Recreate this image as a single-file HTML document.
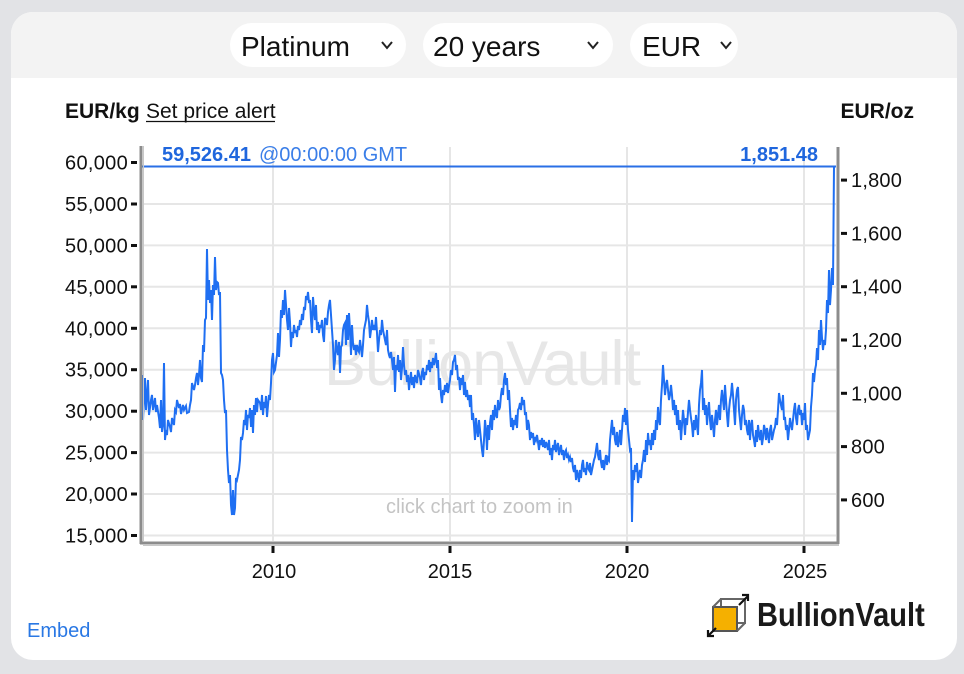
<!DOCTYPE html>
<html>
<head>
<meta charset="utf-8">
<style>
  html,body{margin:0;padding:0;}
  body{width:964px;height:674px;background:#e2e3e6;position:relative;overflow:hidden;font-family:"Liberation Sans",Arial,sans-serif;}
  .card{position:absolute;left:11px;top:12px;width:946px;height:648px;background:#fff;border-radius:22px;overflow:hidden;}
  .hdr{position:absolute;left:0;top:0;width:946px;height:66px;background:#f3f3f3;}
  .pill{position:absolute;top:11px;height:44px;background:#fff;border-radius:22px;}
  svg{position:absolute;left:0;top:0;}
</style>
</head>
<body>
<div class="card">
  <div class="hdr">
    <div class="pill" style="left:219px;width:176px;"></div>
    <div class="pill" style="left:412px;width:190px;"></div>
    <div class="pill" style="left:619px;width:108px;"></div>
  </div>
</div>
<svg width="964" height="674" viewBox="0 0 964 674" xmlns="http://www.w3.org/2000/svg" font-family="Liberation Sans, Arial, sans-serif">
  <!-- header text -->
  <g fill="#111" font-size="28">
    <text x="241" y="56">Platinum</text>
    <text x="433" y="56">20 years</text>
    <text x="642" y="56">EUR</text>
  </g>
  <g fill="none" stroke="#222" stroke-width="2">
    <polyline points="382,42 387,48 392,42"/>
    <polyline points="588,42 593,48 598,42"/>
    <polyline points="721,42 726,48 731,42"/>
  </g>
  <!-- unit labels -->
  <text x="65" y="118" font-size="21" font-weight="bold" fill="#111">EUR/kg</text>
  <text x="146" y="118" font-size="21" fill="#111">Set price alert</text>
  <line x1="146" y1="121.5" x2="275" y2="121.5" stroke="#111" stroke-width="1.3"/>
  <text x="914" y="118" font-size="21" font-weight="bold" fill="#111" text-anchor="end">EUR/oz</text>

  <!-- watermark -->
  <text x="324" y="385" font-size="63" fill="#e7e7e7" letter-spacing="-1">BullionVault</text>

  <!-- gridlines -->
  <g stroke="#e6e6e6" stroke-width="2">
    <line x1="143" y1="204" x2="836" y2="204"/>
    <line x1="143" y1="245.4" x2="836" y2="245.4"/>
    <line x1="143" y1="286.8" x2="836" y2="286.8"/>
    <line x1="143" y1="328.3" x2="836" y2="328.3"/>
    <line x1="143" y1="369.7" x2="836" y2="369.7"/>
    <line x1="143" y1="411.2" x2="836" y2="411.2"/>
    <line x1="143" y1="452.6" x2="836" y2="452.6"/>
    <line x1="143" y1="494" x2="836" y2="494"/>
    <line x1="143" y1="535.5" x2="836" y2="535.5"/>
    <line x1="273" y1="147" x2="273" y2="541"/>
    <line x1="450" y1="147" x2="450" y2="541"/>
    <line x1="627" y1="147" x2="627" y2="541"/>
    <line x1="804" y1="147" x2="804" y2="541"/>
  </g>

  <!-- click text -->
  <text x="386" y="513" font-size="20" fill="#c4c4c4">click chart to zoom in</text>

  <!-- current price line -->
  <line x1="142" y1="166.5" x2="836" y2="166.5" stroke="#2a6fe6" stroke-width="2"/>
  <text x="162" y="161" font-size="20" font-weight="bold" fill="#1f66dd">59,526.41</text>
  <text x="259" y="161" font-size="20" fill="#3a7ee8">@00:00:00 GMT</text>
  <text x="818" y="161" font-size="20" font-weight="bold" fill="#1f66dd" text-anchor="end">1,851.48</text>

  <!-- series -->
  <polyline fill="none" stroke="#1f6ff2" stroke-width="2" stroke-linejoin="miter" points="
143,375 143,420 145,378 146,410 148,380 149,415 151,400 152,395 153,410 155,398 156,412 157,405 159,418 160,428 161,400 162,432 163,425 164,363 165,440 166,430 167,435 168,420 170,427 171,432 172,418 174,425 175,410 176,412 177,400 179,408 180,404 181,414 183,405 184,410 186,406 187,413 189,412 190,405 191,400 192,383 194,390 195,385 196,378 197,373 198,385 199,375 200,360 201,378 202,382 203,345 204,352 205,320 206,318 207,249 208,300 209,280 210,303 211,290 212,320 213,285 214,295 215,257 216,290 217,282 218,283 219,295 220,292 221,373 222,375 223,380 224,400 225,413 226,410 227,450 228,470 229,483 230,475 231,505 232,515 233,490 234,515 235,508 236,478 237,480 238,475 239,470 240,460 241,437 242,440 243,433 244,420 245,425 246,410 247,430 248,415 249,418 250,408 251,427 252,410 253,433 254,405 255,415 256,398 257,412 258,400 260,403 261,410 262,395 263,415 264,402 265,408 266,396 267,417 268,405 269,395 270,400 271,383 272,360 273,353 274,372 275,370 277,355 278,333 279,357 280,340 281,310 282,318 283,300 284,315 285,290 286,305 287,320 288,330 289,308 290,322 291,347 292,332 293,338 294,325 295,333 296,330 297,337 298,326 299,330 300,320 301,325 302,314 303,320 304,307 305,310 306,296 307,300 308,292 309,303 310,300 311,320 312,333 313,297 314,310 315,320 316,305 317,330 318,322 319,333 320,325 321,328 322,320 323,335 324,342 325,318 326,320 327,325 328,312 329,305 330,300 331,315 332,330 333,345 334,370 335,360 336,340 337,350 338,355 339,342 340,373 341,347 342,345 343,330 344,325 345,323 346,345 347,315 348,340 349,313 350,330 351,355 352,325 353,343 354,350 355,345 356,355 357,345 358,350 359,352 360,340 361,348 362,357 363,345 364,330 365,325 366,320 367,305 368,315 369,322 370,338 371,330 372,320 373,330 374,325 375,330 376,317 377,333 378,352 379,340 380,330 381,335 382,320 383,330 384,335 385,340 386,345 387,330 388,350 389,355 390,358 391,352 392,360 393,370 394,357 395,392 396,365 397,370 398,355 399,372 400,360 401,380 402,368 403,347 404,365 405,375 406,370 407,382 408,375 409,390 410,380 411,372 412,385 413,377 414,388 415,375 416,380 417,383 418,370 420,378 421,385 422,372 423,368 424,380 425,372 426,375 427,365 428,370 429,360 430,372 431,362 432,368 433,358 434,365 435,360 436,353 437,368 438,360 439,390 440,378 441,395 442,403 443,390 444,395 445,385 446,392 447,383 448,393 449,386 450,380 451,370 452,375 453,362 454,360 455,355 456,370 457,365 458,380 459,377 460,390 461,378 462,385 463,375 464,395 465,382 466,397 467,390 468,400 469,395 470,407 471,395 472,420 473,413 474,425 475,440 476,418 477,430 478,437 479,420 480,430 481,440 482,450 483,457 484,440 485,420 486,430 487,450 488,425 489,440 490,423 491,415 492,430 493,410 494,420 495,405 496,415 497,418 498,400 499,410 500,407 501,395 502,388 503,395 504,380 505,373 506,385 507,378 508,400 509,390 510,410 511,427 512,418 513,430 514,420 515,425 516,415 517,428 518,410 519,408 520,403 521,410 522,397 523,405 524,400 525,415 526,412 527,430 528,420 529,425 530,440 531,432 532,438 533,433 534,445 535,437 536,440 537,435 538,442 539,450 540,440 541,445 542,438 543,447 544,440 545,448 546,442 547,445 548,450 549,440 550,455 551,448 552,460 553,445 554,450 555,440 556,452 557,447 558,443 559,455 560,450 561,445 562,455 563,450 564,460 565,452 566,450 567,458 568,455 569,460 570,457 571,462 572,458 573,468 574,472 575,465 576,480 577,470 578,475 579,482 580,470 581,478 582,465 583,460 584,472 585,468 586,475 587,462 588,468 589,470 590,463 591,475 592,470 593,465 594,460 595,457 596,450 597,443 598,455 599,460 600,450 601,462 602,468 603,460 604,470 605,462 606,455 607,465 608,458 609,460 610,440 611,430 612,420 613,435 614,427 615,440 616,445 617,432 618,447 619,440 620,430 621,445 622,430 623,415 624,422 625,408 626,425 627,410 628,430 629,440 630,450 631,448 632,522 633,470 634,480 635,465 636,472 637,463 638,483 639,475 640,470 641,478 642,465 643,460 644,450 645,462 646,440 647,455 648,433 649,445 650,440 651,450 652,433 653,445 654,430 655,440 656,420 657,430 658,407 659,420 660,425 661,400 662,385 663,365 664,380 665,395 666,385 667,380 668,390 669,400 670,395 671,385 672,395 673,410 674,400 675,415 676,405 677,425 678,410 679,430 680,420 681,440 682,425 683,410 684,420 685,435 686,418 687,425 688,412 689,400 690,410 691,418 692,425 693,437 694,420 695,430 696,415 697,425 698,435 699,405 700,390 701,383 702,370 703,410 704,398 705,415 706,405 707,425 708,410 709,402 710,420 711,430 712,415 713,425 714,437 715,420 716,410 717,425 718,415 719,405 720,420 721,400 722,390 723,400 724,410 725,385 726,400 727,415 728,427 729,410 730,400 731,395 732,383 733,395 734,410 735,425 736,400 737,390 738,387 739,410 740,420 741,430 742,415 743,405 744,410 745,425 746,420 747,430 748,435 749,420 750,440 751,425 752,420 753,435 754,440 755,447 756,430 757,442 758,425 759,435 760,440 761,430 762,445 763,438 764,425 765,430 766,440 767,428 768,435 769,443 770,430 771,425 772,440 773,435 774,430 775,427 776,418 777,425 778,410 779,393 780,400 781,405 782,410 783,395 784,420 785,417 786,430 787,425 788,440 789,430 790,418 791,425 792,430 793,420 794,410 795,403 796,418 797,425 798,410 799,405 800,415 801,410 802,425 803,413 804,420 805,403 806,430 807,425 808,440 809,435 810,430 811,407 812,395 813,373 814,382 815,370 816,365 817,348 818,360 819,330 820,345 821,320 822,338 823,350 824,340 825,345 826,330 827,300 828,313 829,270 830,305 831,290 832,268 833,285 834,166"/>

  <!-- axes -->
  <g stroke="#8c8c8c" stroke-width="3">
    <line x1="141" y1="146" x2="141" y2="544"/>
    <line x1="140" y1="543" x2="839" y2="543"/>
    <line x1="838" y1="147" x2="838" y2="544"/>
  </g>
  <g stroke="#c8c8c8" stroke-width="1">
    <line x1="143.5" y1="146" x2="143.5" y2="541"/>
    <line x1="143" y1="545.5" x2="839" y2="545.5"/>
  </g>

  <!-- left ticks -->
  <g fill="#111">
    <rect x="131" y="161" width="6" height="3"/>
    <rect x="131" y="202.5" width="6" height="3"/>
    <rect x="131" y="244" width="6" height="3"/>
    <rect x="131" y="285.3" width="6" height="3"/>
    <rect x="131" y="326.8" width="6" height="3"/>
    <rect x="131" y="368.2" width="6" height="3"/>
    <rect x="131" y="409.7" width="6" height="3"/>
    <rect x="131" y="451.1" width="6" height="3"/>
    <rect x="131" y="492.5" width="6" height="3"/>
    <rect x="131" y="534" width="6" height="3"/>
    <!-- right ticks -->
    <rect x="841" y="178.6" width="6" height="3"/>
    <rect x="841" y="231.9" width="6" height="3"/>
    <rect x="841" y="285.2" width="6" height="3"/>
    <rect x="841" y="338.5" width="6" height="3"/>
    <rect x="841" y="391.8" width="6" height="3"/>
    <rect x="841" y="445.1" width="6" height="3"/>
    <rect x="841" y="498.4" width="6" height="3"/>
    <!-- bottom ticks -->
    <rect x="271.5" y="546" width="3" height="7"/>
    <rect x="448.5" y="546" width="3" height="7"/>
    <rect x="625.5" y="546" width="3" height="7"/>
    <rect x="802.5" y="546" width="3" height="7"/>
  </g>

  <!-- left labels -->
  <g font-size="20" fill="#111" text-anchor="end" letter-spacing="0.3">
    <text x="128" y="169.5">60,000</text>
    <text x="128" y="211">55,000</text>
    <text x="128" y="252.4">50,000</text>
    <text x="128" y="293.8">45,000</text>
    <text x="128" y="335.3">40,000</text>
    <text x="128" y="376.7">35,000</text>
    <text x="128" y="418.2">30,000</text>
    <text x="128" y="459.6">25,000</text>
    <text x="128" y="501">20,000</text>
    <text x="128" y="542.5">15,000</text>
  </g>
  <!-- right labels -->
  <g font-size="20" fill="#111" letter-spacing="0.2">
    <text x="851" y="187.1">1,800</text>
    <text x="851" y="240.4">1,600</text>
    <text x="851" y="293.7">1,400</text>
    <text x="851" y="347">1,200</text>
    <text x="851" y="400.3">1,000</text>
    <text x="851" y="453.6">800</text>
    <text x="851" y="506.9">600</text>
  </g>
  <!-- x labels -->
  <g font-size="20" fill="#111" text-anchor="middle">
    <text x="274" y="578">2010</text>
    <text x="450" y="578">2015</text>
    <text x="627" y="578">2020</text>
    <text x="805" y="578">2025</text>
  </g>

  <!-- embed -->
  <text x="27" y="637" font-size="20" fill="#2a78e4">Embed</text>

  <!-- logo -->
  <g>
    <rect x="721" y="599" width="24" height="24" fill="none" stroke="#666" stroke-width="2"/>
    <rect x="713" y="607" width="24" height="24" fill="#f5b000" stroke="#555" stroke-width="2"/>
    <line x1="713" y1="607" x2="721" y2="599" stroke="#666" stroke-width="2"/>
    <line x1="737" y1="631" x2="745" y2="623" stroke="#666" stroke-width="2"/>
    <line x1="739" y1="605" x2="748" y2="596" stroke="#111" stroke-width="2.2"/>
    <polyline points="742,595 748,595 748,601" fill="none" stroke="#111" stroke-width="2.2"/>
    <line x1="716" y1="628" x2="708" y2="636" stroke="#111" stroke-width="2.2"/>
    <polyline points="708,630 708,636 714,636" fill="none" stroke="#111" stroke-width="2.2"/>
  </g>
  <text x="0" y="0" font-size="33" font-weight="bold" fill="#1a1a1a" transform="translate(757,626) scale(0.88,1)">BullionVault</text>
</svg>
</body>
</html>
